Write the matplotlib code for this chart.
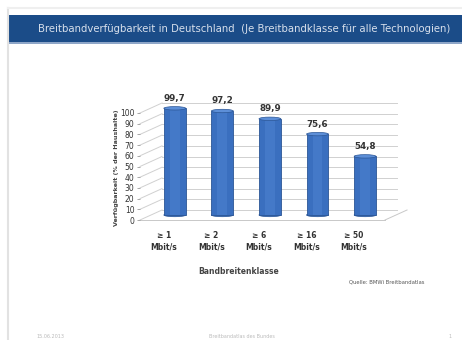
import matplotlib
matplotlib.use("Agg")
import matplotlib.pyplot as plt
import matplotlib.transforms as mtransforms
from matplotlib.patches import Ellipse, Rectangle
import numpy as np

plt.rcParams['font.family'] = ['DejaVu Sans']

title = "Breitbandverfügbarkeit in Deutschland  (Je Breitbandklasse für alle Technologien)"
categories = ["≥ 1\nMbit/s", "≥ 2\nMbit/s", "≥ 6\nMbit/s", "≥ 16\nMbit/s", "≥ 50\nMbit/s"]
values = [99.7, 97.2, 89.9, 75.6, 54.8]
value_labels = ["99,7", "97,2", "89,9", "75,6", "54,8"]
yticks = list(range(0, 101, 10))
ylabel = "Verfügbarkeit (% der Haushalte)"
xlabel = "Bandbreitenklasse"
source = "Quelle: BMWi Breitbandatlas"

W, H = 462, 340
fig = plt.figure(figsize=(W / 100, H / 100), dpi=100)
fig.patch.set_facecolor("white")

def fx(px):
    return px / W

def fy(py):
    return 1 - py / H

# slide frame
fig.add_artist(plt.Line2D([fx(8), fx(8)], [0, fy(8)], color="#e2e2e2", lw=1.5))
fig.add_artist(plt.Line2D([fx(8), 1], [fy(8), fy(8)], color="#efefef", lw=1.5))
fig.add_artist(Rectangle((fx(8), fy(42)), 1 - fx(8), fy(15) - fy(42),
                         transform=fig.transFigure, facecolor="#1b4c88", edgecolor="none"))
fig.add_artist(Rectangle((fx(8), fy(44)), 1 - fx(8), fy(42) - fy(44),
                         transform=fig.transFigure, facecolor="#8ea6c8", edgecolor="none"))
fig.text(fx(244), fy(29), title, color="#d8e0ec", fontsize=7.3, ha="center", va="center")

# axes: front plane
ax = fig.add_axes([fx(140), fy(220), fx(245), 107 / H])
ax.set_xlim(-0.5, 4.65)
ax.set_ylim(0, 100)
for s in ax.spines.values():
    s.set_visible(False)
ax.set_yticks(yticks)
ax.set_yticklabels([str(t) for t in yticks], fontsize=5.5, color="#333333")
ax.tick_params(axis="y", length=2, width=0.6, color="#999999", pad=2)
x = np.arange(len(categories))
ax.set_xticks(x)
ax.set_xticklabels(categories, fontsize=5.5, color="#333333", fontweight="bold", linespacing=1.4)
ax.tick_params(axis="x", length=0, pad=8)

dx_back, dy_back = 22, 10  # pixel offset of back wall
back = mtransforms.offset_copy(ax.transData, fig=fig, x=dx_back, y=dy_back, units="dots")
mid = mtransforms.offset_copy(ax.transData, fig=fig, x=dx_back / 2, y=dy_back / 2, units="dots")

x0, x1 = ax.get_xlim()
# back wall gridlines and left wall diagonals
for t in yticks:
    ax.plot([x0, x1 - 0.22], [t, t], transform=back, color="#d0d0d0", lw=0.7, clip_on=False, zorder=1)
    ax.plot([x0, x0 + dx_back / 47.5], [t, t + dy_back * 100 / 107], color="#d0d0d0",
            lw=0.7, clip_on=False, zorder=1)
# floor
ax.plot([x0, x1], [0, 0], color="#c8c8c8", lw=0.7, clip_on=False, zorder=1)
ax.plot([x1, x1 + dx_back / 47.5], [0, dy_back * 100 / 107], color="#c8c8c8", lw=0.7, clip_on=False, zorder=1)

# cylinder bars
bw = 0.46
ax.bar(x, values, width=bw, color="#3a6fbf", edgecolor="#2b5696", linewidth=0.6,
       transform=mid, zorder=3, clip_on=False)
ax.bar(x, values, width=bw * 0.45, color="#4479c8", edgecolor="none",
       transform=mid, zorder=3, clip_on=False)
for xi, v in zip(x, values):
    e = Ellipse((xi, v), bw, 3.2, transform=mid, facecolor="#5d8fd8",
                edgecolor="#2b5696", lw=0.5, zorder=4, clip_on=False)
    ax.add_patch(e)
    e0 = Ellipse((xi, 0), bw, 3.2, transform=mid, facecolor="#3a6fbf",
                 edgecolor="#2b5696", lw=0.5, zorder=2, clip_on=False)
    ax.add_patch(e0)

lab = mtransforms.offset_copy(ax.transData, fig=fig, x=dx_back / 2, y=dy_back / 2 + 10, units="dots")
for xi, v, s in zip(x, values, value_labels):
    ax.text(xi, v, s, transform=lab, ha="center", va="center", fontsize=6.3,
            fontweight="bold", color="#333333")

fig.text(fx(117), fy(168), ylabel, rotation=90, fontsize=4.6, fontweight="bold",
         color="#444444", ha="center", va="center")
fig.text(fx(239), fy(272), xlabel, fontsize=5.5, fontweight="bold", color="#444444",
         ha="center", va="center")
fig.text(fx(387), fy(282), source, fontsize=3.8, color="#555555", ha="center", va="center")

# footer
fig.text(fx(50), fy(337), "15.06.2013", fontsize=3.5, color="#bbbbbb", ha="center", va="center")
fig.text(fx(242), fy(337), "Breitbandatlas des Bundes", fontsize=3.5, color="#bbbbbb",
         ha="center", va="center")
fig.text(fx(450), fy(337), "1", fontsize=3.5, color="#bbbbbb", ha="center", va="center")

fig.savefig("out.png", dpi=100)
